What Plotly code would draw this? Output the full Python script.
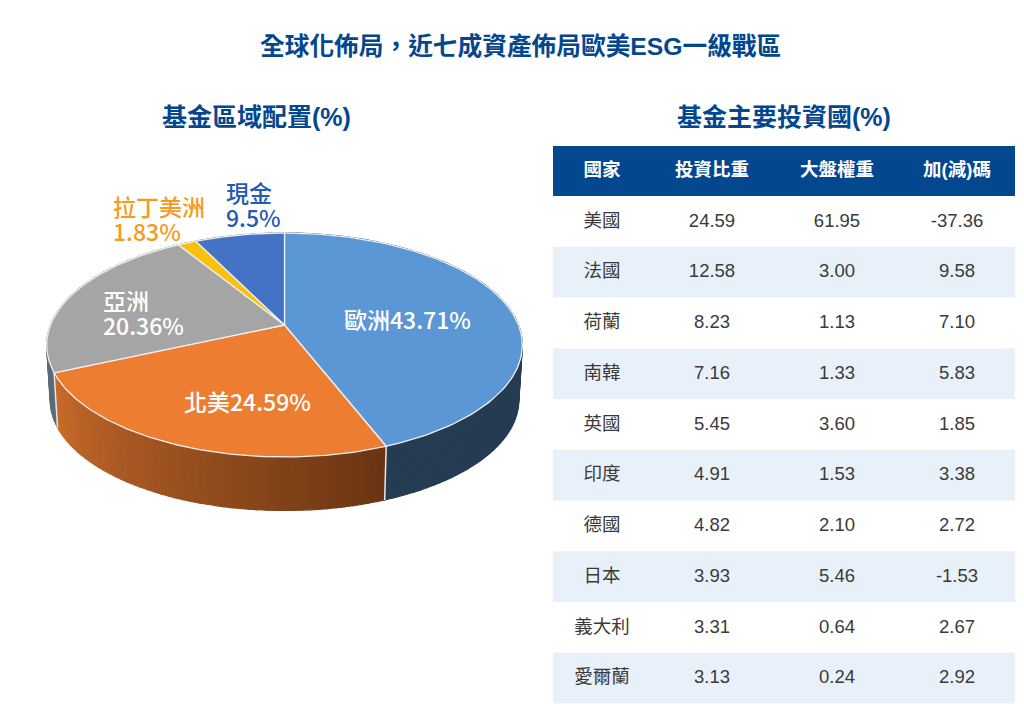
import numpy as np
import plotly.graph_objects as go

# pie labels as printed on the chart
region_names = ["歐洲", "北美", "亞洲", "拉丁美洲", "現金"]
region_values = ["43.71%", "24.59%", "20.36%", "1.83%", "9.5%"]
# slice sizes as actually drawn in the picture (small slices differ from the printed labels)
region_shares = [44.10, 24.20, 22.95, 1.50, 7.25]
top_colors = ["#5b97d5", "#ed7d31", "#a5a5a5", "#fac010", "#4472c4"]
wall_start = ["#263c53", "#6b3513", "#5b6b78", "#5b6b78", "#5b6b78"]
wall_end = ["#263c53", "#c96c2b", "#5b6b78", "#5b6b78", "#5b6b78"]

countries = ["美國", "法國", "荷蘭", "南韓", "英國", "印度", "德國", "日本", "義大利", "愛爾蘭"]
fund_weight = ["24.59", "12.58", "8.23", "7.16", "5.45", "4.91", "4.82", "3.93", "3.31", "3.13"]
index_weight = ["61.95", "3.00", "1.13", "1.33", "3.60", "1.53", "2.10", "5.46", "0.64", "0.24"]
active_weight = ["-37.36", "9.58", "7.10", "5.83", "1.85", "3.38", "2.72", "-1.53", "2.67", "2.92"]
table_header = ["國家", "投資比重", "大盤權重", "加(減)碼"]

NAVY = "#03478f"
ROW_TINT = "#e8f1f9"
FONT = "Liberation Sans, Noto Sans CJK TC, sans-serif"
LABEL_FONT = "Noto Sans CJK TC, sans-serif"

# tilted pie: projected circle, with the far side foreshortened
CX, APEX_Y, RADIUS, TILT, PERSP, DEPTH = 284.5, 325, 234, 108.4, 0.1786, 55.5

# table layout in page pixels
TABLE_LEFT, TABLE_RIGHT, HEADER_TOP, HEADER_BOTTOM, ROW_H = 553, 1015, 146, 196, 50.75
COLUMN_X = [602, 712, 837, 957]


def project(theta, radius=RADIUS, shift=0):
    d = 1 + PERSP * np.cos(theta)
    return CX + radius * np.sin(theta) / d, APEX_Y + shift - TILT * (radius / RADIUS) * np.cos(theta) / d


def mix(c1, c2, t):
    a = [int(c1[i:i + 2], 16) for i in (1, 3, 5)]
    b = [int(c2[i:i + 2], 16) for i in (1, 3, 5)]
    return "rgb(%d,%d,%d)" % tuple(a[i] + (b[i] - a[i]) * t for i in range(3))


def poly(x, y, fill, line, width):
    return go.Scatter(x=x, y=y, mode="lines", fill="toself", fillcolor=fill,
                      line=dict(color=line, width=width), hoverinfo="skip", showlegend=False)


def rect(x0, y0, x1, y1, color):
    fig.add_shape(type="rect", x0=x0, y0=y0, x1=x1, y1=y1, xref="x", yref="y", layer="below",
                  fillcolor=color, line=dict(width=0))


fig = go.Figure()
edges = np.radians(np.cumsum([0] + region_shares) * 3.6)

# side wall first, in thin strips so the gradient shows
for i in range(len(region_shares)):
    steps = np.linspace(edges[i], edges[i + 1], max(2, int((edges[i + 1] - edges[i]) / 0.03)))
    for j in range(len(steps) - 1):
        t = j / max(1, len(steps) - 2)
        th = steps[j:j + 2]
        x1, y1 = project(th)
        x2, y2 = project(th[::-1], RADIUS * 0.985, DEPTH)
        col = mix(wall_start[i], wall_end[i], t)
        fig.add_trace(poly(np.r_[x1, x2, x1[0]], np.r_[y1, y2, y1[0]], col, col, 1.2))

# light seams on the wall at the visible slice edges
for e in [edges[1], edges[2]]:
    x1, y1 = project(e)
    x2, y2 = project(e, RADIUS * 0.985, DEPTH)
    fig.add_trace(go.Scatter(x=[x1, x2], y=[y1, y2], mode="lines", hoverinfo="skip", showlegend=False,
                             line=dict(color="#e8e8e8", width=1.5)))

# top face
for i in range(len(region_shares)):
    th = np.linspace(edges[i], edges[i + 1], 120)
    x, y = project(th)
    fig.add_trace(poly(np.r_[CX, x, CX], np.r_[APEX_Y, y, APEX_Y], top_colors[i], "#eef0f2", 1.3))

# table: header band, tinted rows, then one text trace per column
rect(TABLE_LEFT, HEADER_TOP, TABLE_RIGHT, HEADER_BOTTOM, NAVY)
row_y = [HEADER_BOTTOM + ROW_H * (k + 0.5) + 0.7 for k in range(len(countries))]
for k in range(1, len(countries), 2):
    rect(TABLE_LEFT, HEADER_BOTTOM + ROW_H * k, TABLE_RIGHT, HEADER_BOTTOM + ROW_H * (k + 1), ROW_TINT)

fig.add_trace(go.Scatter(x=COLUMN_X, y=[(HEADER_TOP + HEADER_BOTTOM) / 2] * 4, text=table_header,
                         mode="text", textposition="middle center", hoverinfo="skip", showlegend=False,
                         textfont=dict(family=FONT, size=18.5, color="white", weight=700)))
for cx, column in zip(COLUMN_X, [countries, fund_weight, index_weight, active_weight]):
    fig.add_trace(go.Scatter(x=[cx] * len(column), y=row_y, text=column,
                             mode="text", textposition="middle center", hoverinfo="skip", showlegend=False,
                             textfont=dict(family=FONT, size=18.5, color="#3a3a3a")))


def label(x, y, text, color, anchor="left", family=LABEL_FONT, size=23, weight=500):
    fig.add_annotation(x=x, y=y, xref="x", yref="y", text=text, showarrow=False, xanchor=anchor,
                       align=anchor, yanchor="middle",
                       font=dict(family=family, size=size, color=color, weight=weight))


def two_lines(x, y, top, bottom, color):
    # line gap follows the annotation font size, so the 23px text sits in a 19px frame
    text = '<span style="font-size:23px">%s</span><br><span style="font-size:23px">%s</span>' % (top, bottom)
    label(x, y, text, color, size=19.2)


label(520, 46, "全球化佈局\uff0c近七成資產佈局歐美ESG一級戰區", NAVY, "center", FONT, 24.7, 700)
label(256, 117, "基金區域配置(%)", NAVY, "center", FONT, 25, 700)
label(784, 117, "基金主要投資國(%)", NAVY, "center", FONT, 25, 700)
label(407, 319, region_names[0] + region_values[0], "white", "center")
label(247, 401, region_names[1] + region_values[1], "white", "center")
two_lines(101, 312, region_names[2], region_values[2], "#ffffff")
two_lines(111, 218, region_names[3], region_values[3], "#f79a1e")
two_lines(224, 204, region_names[4], region_values[4], "#2459b8")

fig.update_layout(
    width=1024, height=713, margin=dict(l=0, r=0, t=0, b=0),
    paper_bgcolor="white", plot_bgcolor="white", showlegend=False,
    xaxis=dict(range=[0, 1024], visible=False, domain=[0, 1]),
    yaxis=dict(range=[713, 0], visible=False, domain=[0, 1]),
)

fig.write_html("out.html", config=dict(displayModeBar=False),
               post_script="document.body.style.margin='0';")
